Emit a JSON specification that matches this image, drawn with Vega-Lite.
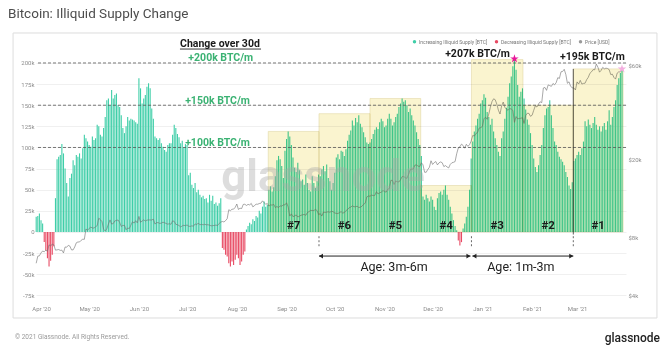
{
  "$schema": "https://vega.github.io/schema/vega-lite/v6.json",
  "width": 590,
  "height": 254,
  "autosize": {"type": "none"},
  "padding": {"left": 36, "top": 46, "right": 44, "bottom": 59},
  "background": "#ffffff",
  "title": {"text": "Bitcoin: Illiquid Supply Change", "anchor": "start", "frame": "group", "dx": -28, "offset": 12, "fontSize": 13.5, "font": "Roboto", "fontWeight": "normal", "color": "#4d4d4d"},
  "config": {"view": {"stroke": null}, "font": "Roboto"},
  "datasets": {
    "main": [
      {"d":"2020-03-29","v":18,"p":5880},{"d":"2020-03-30","v":19,"p":6390},{"d":"2020-03-31","v":22,"p":6420},
      {"d":"2020-04-01","v":14,"p":6640},{"d":"2020-04-02","v":10,"p":6790},{"d":"2020-04-03","v":-12,"p":6730},{"d":"2020-04-04","v":-22,"p":6860},{"d":"2020-04-05","v":-31,"p":6770},{"d":"2020-04-06","v":-41,"p":7300},{"d":"2020-04-07","v":-34,"p":7200},{"d":"2020-04-08","v":-27,"p":7370},{"d":"2020-04-09","v":-17,"p":7300},{"d":"2020-04-10","v":40,"p":6860},
      {"d":"2020-04-11","v":86,"p":6880},{"d":"2020-04-12","v":89,"p":6910},{"d":"2020-04-13","v":91,"p":6840},{"d":"2020-04-14","v":104,"p":6860},{"d":"2020-04-15","v":93,"p":6640},{"d":"2020-04-16","v":75,"p":7120},{"d":"2020-04-17","v":58,"p":7100},{"d":"2020-04-18","v":42,"p":7260},{"d":"2020-04-19","v":64,"p":7190},{"d":"2020-04-20","v":69,"p":6880},
      {"d":"2020-04-21","v":85,"p":6880},{"d":"2020-04-22","v":79,"p":7120},{"d":"2020-04-23","v":91,"p":7480},{"d":"2020-04-24","v":89,"p":7550},{"d":"2020-04-25","v":93,"p":7550},{"d":"2020-04-26","v":87,"p":7700},{"d":"2020-04-27","v":99,"p":7800},{"d":"2020-04-28","v":115,"p":7790},{"d":"2020-04-29","v":111,"p":8800},{"d":"2020-04-30","v":107,"p":8660},
      {"d":"2020-05-01","v":103,"p":8860},{"d":"2020-05-02","v":101,"p":8990},{"d":"2020-05-03","v":113,"p":8910},{"d":"2020-05-04","v":109,"p":8890},{"d":"2020-05-05","v":111,"p":9030},{"d":"2020-05-06","v":127,"p":9150},{"d":"2020-05-07","v":125,"p":9990},{"d":"2020-05-08","v":115,"p":9810},{"d":"2020-05-09","v":113,"p":9590},{"d":"2020-05-10","v":123,"p":8760},
      {"d":"2020-05-11","v":136,"p":8600},{"d":"2020-05-12","v":156,"p":8820},{"d":"2020-05-13","v":158,"p":9320},{"d":"2020-05-14","v":150,"p":9790},{"d":"2020-05-15","v":168,"p":9320},{"d":"2020-05-16","v":158,"p":9380},{"d":"2020-05-17","v":162,"p":9670},{"d":"2020-05-18","v":164,"p":9730},{"d":"2020-05-19","v":150,"p":9780},{"d":"2020-05-20","v":148,"p":9510},
      {"d":"2020-05-21","v":138,"p":9060},{"d":"2020-05-22","v":123,"p":9170},{"d":"2020-05-23","v":117,"p":9180},{"d":"2020-05-24","v":125,"p":8720},{"d":"2020-05-25","v":136,"p":8900},{"d":"2020-05-26","v":132,"p":8840},{"d":"2020-05-27","v":134,"p":9200},{"d":"2020-05-28","v":133,"p":9580},{"d":"2020-05-29","v":132,"p":9430},{"d":"2020-05-30","v":130,"p":9700},{"d":"2020-05-31","v":128,"p":9450},
      {"d":"2020-06-01","v":182,"p":10200},{"d":"2020-06-02","v":170,"p":9520},{"d":"2020-06-03","v":152,"p":9660},{"d":"2020-06-04","v":158,"p":9800},{"d":"2020-06-05","v":162,"p":9660},{"d":"2020-06-06","v":172,"p":9760},{"d":"2020-06-07","v":176,"p":9790},{"d":"2020-06-08","v":170,"p":9780},{"d":"2020-06-09","v":146,"p":9780},{"d":"2020-06-10","v":134,"p":9880},
      {"d":"2020-06-11","v":113,"p":9320},{"d":"2020-06-12","v":111,"p":9480},{"d":"2020-06-13","v":109,"p":9480},{"d":"2020-06-14","v":111,"p":9390},{"d":"2020-06-15","v":105,"p":9430},{"d":"2020-06-16","v":101,"p":9530},{"d":"2020-06-17","v":97,"p":9460},{"d":"2020-06-18","v":95,"p":9390},{"d":"2020-06-19","v":103,"p":9310},{"d":"2020-06-20","v":105,"p":9360},
      {"d":"2020-06-21","v":105,"p":9290},{"d":"2020-06-22","v":115,"p":9680},{"d":"2020-06-23","v":127,"p":9620},{"d":"2020-06-24","v":123,"p":9290},{"d":"2020-06-25","v":116,"p":9250},{"d":"2020-06-26","v":112,"p":9160},{"d":"2020-06-27","v":105,"p":9010},{"d":"2020-06-28","v":108,"p":9120},{"d":"2020-06-29","v":100,"p":9190},{"d":"2020-06-30","v":104,"p":9140},
      {"d":"2020-07-01","v":103,"p":9230},{"d":"2020-07-02","v":67,"p":9090},{"d":"2020-07-03","v":70,"p":9070},{"d":"2020-07-04","v":56,"p":9130},{"d":"2020-07-05","v":52,"p":9090},{"d":"2020-07-06","v":58,"p":9340},{"d":"2020-07-07","v":47,"p":9250},{"d":"2020-07-08","v":50,"p":9440},{"d":"2020-07-09","v":44,"p":9240},{"d":"2020-07-10","v":41,"p":9290},
      {"d":"2020-07-11","v":43,"p":9240},{"d":"2020-07-12","v":39,"p":9300},{"d":"2020-07-13","v":40,"p":9240},{"d":"2020-07-14","v":35,"p":9250},{"d":"2020-07-15","v":44,"p":9200},{"d":"2020-07-16","v":37,"p":9130},{"d":"2020-07-17","v":43,"p":9150},{"d":"2020-07-18","v":33,"p":9170},{"d":"2020-07-19","v":35,"p":9210},{"d":"2020-07-20","v":31,"p":9160},
      {"d":"2020-07-21","v":34,"p":9390},{"d":"2020-07-22","v":40,"p":9540},{"d":"2020-07-23","v":-19,"p":9610},{"d":"2020-07-24","v":-21,"p":9550},{"d":"2020-07-25","v":-27,"p":9710},{"d":"2020-07-26","v":-29,"p":9930},{"d":"2020-07-27","v":-37,"p":11030},{"d":"2020-07-28","v":-41,"p":10910},{"d":"2020-07-29","v":-35,"p":11100},{"d":"2020-07-30","v":-39,"p":11110},{"d":"2020-07-31","v":-33,"p":11350},
      {"d":"2020-08-01","v":-27,"p":11800},{"d":"2020-08-02","v":-31,"p":11070},{"d":"2020-08-03","v":-39,"p":11230},{"d":"2020-08-04","v":-35,"p":11190},{"d":"2020-08-05","v":-27,"p":11740},{"d":"2020-08-06","v":-23,"p":11770},{"d":"2020-08-07","v":3,"p":11600},{"d":"2020-08-08","v":7,"p":11750},{"d":"2020-08-09","v":11,"p":11680},{"d":"2020-08-10","v":9,"p":11880},
      {"d":"2020-08-11","v":15,"p":11410},{"d":"2020-08-12","v":13,"p":11580},{"d":"2020-08-13","v":19,"p":11780},{"d":"2020-08-14","v":17,"p":11770},{"d":"2020-08-15","v":25,"p":11870},{"d":"2020-08-16","v":22,"p":11910},{"d":"2020-08-17","v":30,"p":12250},{"d":"2020-08-18","v":36,"p":11990},{"d":"2020-08-19","v":30,"p":11760},{"d":"2020-08-20","v":32,"p":11870},
      {"d":"2020-08-21","v":50,"p":11520},{"d":"2020-08-22","v":54,"p":11680},{"d":"2020-08-23","v":48,"p":11650},{"d":"2020-08-24","v":53,"p":11750},{"d":"2020-08-25","v":66,"p":11320},{"d":"2020-08-26","v":85,"p":11460},{"d":"2020-08-27","v":90,"p":11320},{"d":"2020-08-28","v":86,"p":11540},{"d":"2020-08-29","v":78,"p":11510},{"d":"2020-08-30","v":64,"p":11680},{"d":"2020-08-31","v":96,"p":11680},
      {"d":"2020-09-01","v":110,"p":11970},{"d":"2020-09-02","v":119,"p":11410},{"d":"2020-09-03","v":113,"p":10240},{"d":"2020-09-04","v":103,"p":10510},{"d":"2020-09-05","v":88,"p":10170},{"d":"2020-09-06","v":76,"p":10260},{"d":"2020-09-07","v":71,"p":10380},{"d":"2020-09-08","v":82,"p":10130},{"d":"2020-09-09","v":73,"p":10230},{"d":"2020-09-10","v":60,"p":10340},
      {"d":"2020-09-11","v":62,"p":10390},{"d":"2020-09-12","v":56,"p":10440},{"d":"2020-09-13","v":68,"p":10330},{"d":"2020-09-14","v":58,"p":10680},{"d":"2020-09-15","v":50,"p":10790},{"d":"2020-09-16","v":48,"p":10950},{"d":"2020-09-17","v":66,"p":10940},{"d":"2020-09-18","v":58,"p":10930},{"d":"2020-09-19","v":52,"p":11080},{"d":"2020-09-20","v":60,"p":10920},
      {"d":"2020-09-21","v":68,"p":10420},{"d":"2020-09-22","v":66,"p":10540},{"d":"2020-09-23","v":74,"p":10240},{"d":"2020-09-24","v":78,"p":10740},{"d":"2020-09-25","v":72,"p":10690},{"d":"2020-09-26","v":80,"p":10730},{"d":"2020-09-27","v":64,"p":10770},{"d":"2020-09-28","v":60,"p":10710},{"d":"2020-09-29","v":50,"p":10840},{"d":"2020-09-30","v":58,"p":10780},
      {"d":"2020-10-01","v":70,"p":10620},{"d":"2020-10-02","v":88,"p":10570},{"d":"2020-10-03","v":92,"p":10550},{"d":"2020-10-04","v":86,"p":10670},{"d":"2020-10-05","v":96,"p":10790},{"d":"2020-10-06","v":95,"p":10600},{"d":"2020-10-07","v":90,"p":10670},{"d":"2020-10-08","v":98,"p":10920},{"d":"2020-10-09","v":108,"p":11060},{"d":"2020-10-10","v":115,"p":11300},
      {"d":"2020-10-11","v":120,"p":11380},{"d":"2020-10-12","v":132,"p":11550},{"d":"2020-10-13","v":126,"p":11430},{"d":"2020-10-14","v":135,"p":11430},{"d":"2020-10-15","v":130,"p":11500},{"d":"2020-10-16","v":138,"p":11320},{"d":"2020-10-17","v":128,"p":11370},{"d":"2020-10-18","v":124,"p":11500},{"d":"2020-10-19","v":118,"p":11760},{"d":"2020-10-20","v":112,"p":11920},
      {"d":"2020-10-21","v":106,"p":12820},{"d":"2020-10-22","v":104,"p":12970},{"d":"2020-10-23","v":106,"p":12930},{"d":"2020-10-24","v":110,"p":13110},{"d":"2020-10-25","v":116,"p":13030},{"d":"2020-10-26","v":121,"p":13070},{"d":"2020-10-27","v":124,"p":13650},{"d":"2020-10-28","v":122,"p":13280},{"d":"2020-10-29","v":130,"p":13460},{"d":"2020-10-30","v":134,"p":13560},{"d":"2020-10-31","v":131,"p":13800},
      {"d":"2020-11-01","v":124,"p":13740},{"d":"2020-11-02","v":126,"p":13550},{"d":"2020-11-03","v":134,"p":14030},{"d":"2020-11-04","v":140,"p":14150},{"d":"2020-11-05","v":134,"p":15590},{"d":"2020-11-06","v":126,"p":15580},{"d":"2020-11-07","v":130,"p":14840},{"d":"2020-11-08","v":136,"p":15480},{"d":"2020-11-09","v":140,"p":15330},{"d":"2020-11-10","v":148,"p":15300},
      {"d":"2020-11-11","v":152,"p":15700},{"d":"2020-11-12","v":158,"p":16280},{"d":"2020-11-13","v":154,"p":16320},{"d":"2020-11-14","v":156,"p":16070},{"d":"2020-11-15","v":150,"p":15960},{"d":"2020-11-16","v":142,"p":16720},{"d":"2020-11-17","v":146,"p":17650},{"d":"2020-11-18","v":138,"p":17780},{"d":"2020-11-19","v":132,"p":17820},{"d":"2020-11-20","v":126,"p":18660},
      {"d":"2020-11-21","v":118,"p":18680},{"d":"2020-11-22","v":110,"p":18410},{"d":"2020-11-23","v":103,"p":18370},{"d":"2020-11-24","v":90,"p":19160},{"d":"2020-11-25","v":42,"p":18720},{"d":"2020-11-26","v":38,"p":17150},{"d":"2020-11-27","v":44,"p":17140},{"d":"2020-11-28","v":40,"p":17720},{"d":"2020-11-29","v":36,"p":18180},{"d":"2020-11-30","v":42,"p":19630},
      {"d":"2020-12-01","v":38,"p":18800},{"d":"2020-12-02","v":30,"p":19200},{"d":"2020-12-03","v":26,"p":19450},{"d":"2020-12-04","v":40,"p":18700},{"d":"2020-12-05","v":46,"p":19150},{"d":"2020-12-06","v":48,"p":19360},{"d":"2020-12-07","v":44,"p":19170},{"d":"2020-12-08","v":50,"p":18320},{"d":"2020-12-09","v":55,"p":18550},{"d":"2020-12-10","v":44,"p":18250},
      {"d":"2020-12-11","v":38,"p":18040},{"d":"2020-12-12","v":30,"p":18800},{"d":"2020-12-13","v":22,"p":19170},{"d":"2020-12-14","v":14,"p":19270},{"d":"2020-12-15","v":7,"p":19440},{"d":"2020-12-16","v":2,"p":21310},{"d":"2020-12-17","v":-10,"p":22800},{"d":"2020-12-18","v":-16,"p":23140},{"d":"2020-12-19","v":-12,"p":23870},{"d":"2020-12-20","v":4,"p":23480},
      {"d":"2020-12-21","v":10,"p":22750},{"d":"2020-12-22","v":18,"p":23820},{"d":"2020-12-23","v":30,"p":23250},{"d":"2020-12-24","v":50,"p":23720},{"d":"2020-12-25","v":87,"p":24710},{"d":"2020-12-26","v":107,"p":26440},{"d":"2020-12-27","v":119,"p":26250},{"d":"2020-12-28","v":126,"p":27040},{"d":"2020-12-29","v":134,"p":27360},{"d":"2020-12-30","v":140,"p":28840},{"d":"2020-12-31","v":152,"p":29000},
      {"d":"2021-01-01","v":156,"p":29370},{"d":"2021-01-02","v":163,"p":32130},{"d":"2021-01-03","v":159,"p":32780},{"d":"2021-01-04","v":142,"p":31970},{"d":"2021-01-05","v":136,"p":33990},{"d":"2021-01-06","v":127,"p":36820},{"d":"2021-01-07","v":134,"p":39370},{"d":"2021-01-08","v":119,"p":40670},{"d":"2021-01-09","v":111,"p":40240},{"d":"2021-01-10","v":103,"p":38240},
      {"d":"2021-01-11","v":95,"p":35540},{"d":"2021-01-12","v":90,"p":34010},{"d":"2021-01-13","v":111,"p":37390},{"d":"2021-01-14","v":119,"p":39150},{"d":"2021-01-15","v":134,"p":36830},{"d":"2021-01-16","v":147,"p":36070},{"d":"2021-01-17","v":160,"p":35550},{"d":"2021-01-18","v":176,"p":36250},{"d":"2021-01-19","v":184,"p":36070},{"d":"2021-01-20","v":196,"p":35500},
      {"d":"2021-01-21","v":207,"p":30830},{"d":"2021-01-22","v":192,"p":33000},{"d":"2021-01-23","v":174,"p":32100},{"d":"2021-01-24","v":160,"p":32280},{"d":"2021-01-25","v":166,"p":32370},{"d":"2021-01-26","v":170,"p":32570},{"d":"2021-01-27","v":158,"p":30430},{"d":"2021-01-28","v":145,"p":33470},{"d":"2021-01-29","v":133,"p":34320},{"d":"2021-01-30","v":127,"p":34270},{"d":"2021-01-31","v":117,"p":33110},
      {"d":"2021-02-01","v":103,"p":33540},{"d":"2021-02-02","v":87,"p":35510},{"d":"2021-02-03","v":77,"p":37470},{"d":"2021-02-04","v":71,"p":36930},{"d":"2021-02-05","v":79,"p":38290},{"d":"2021-02-06","v":91,"p":39260},{"d":"2021-02-07","v":103,"p":38900},{"d":"2021-02-08","v":123,"p":46200},{"d":"2021-02-09","v":138,"p":46480},{"d":"2021-02-10","v":146,"p":44920},
      {"d":"2021-02-11","v":148,"p":47910},{"d":"2021-02-12","v":156,"p":47500},{"d":"2021-02-13","v":138,"p":47100},{"d":"2021-02-14","v":123,"p":48700},{"d":"2021-02-15","v":107,"p":47940},{"d":"2021-02-16","v":103,"p":49200},{"d":"2021-02-17","v":95,"p":52150},{"d":"2021-02-18","v":89,"p":51680},{"d":"2021-02-19","v":86,"p":55890},{"d":"2021-02-20","v":83,"p":56100},
      {"d":"2021-02-21","v":79,"p":57540},{"d":"2021-02-22","v":71,"p":54200},{"d":"2021-02-23","v":65,"p":48820},{"d":"2021-02-24","v":55,"p":49700},{"d":"2021-02-25","v":51,"p":47090},{"d":"2021-02-26","v":59,"p":46340},{"d":"2021-02-27","v":84,"p":46190},{"d":"2021-02-28","v":87,"p":45140},
      {"d":"2021-03-01","v":91,"p":49630},{"d":"2021-03-02","v":95,"p":48380},{"d":"2021-03-03","v":91,"p":50540},{"d":"2021-03-04","v":99,"p":48380},{"d":"2021-03-05","v":107,"p":48750},{"d":"2021-03-06","v":131,"p":48880},{"d":"2021-03-07","v":125,"p":50970},{"d":"2021-03-08","v":133,"p":52380},{"d":"2021-03-09","v":127,"p":54880},{"d":"2021-03-10","v":123,"p":55860},
      {"d":"2021-03-11","v":129,"p":57330},{"d":"2021-03-12","v":136,"p":57230},{"d":"2021-03-13","v":127,"p":61190},{"d":"2021-03-14","v":121,"p":59000},{"d":"2021-03-15","v":125,"p":55650},{"d":"2021-03-16","v":119,"p":56830},{"d":"2021-03-17","v":125,"p":58890},{"d":"2021-03-18","v":129,"p":57860},{"d":"2021-03-19","v":121,"p":58350},{"d":"2021-03-20","v":131,"p":58100},
      {"d":"2021-03-21","v":144,"p":57350},{"d":"2021-03-22","v":127,"p":54080},{"d":"2021-03-23","v":136,"p":54340},{"d":"2021-03-24","v":148,"p":52300},{"d":"2021-03-25","v":156,"p":51300},{"d":"2021-03-26","v":174,"p":55030},{"d":"2021-03-27","v":182,"p":55860},{"d":"2021-03-28","v":188,"p":55780},{"d":"2021-03-29","v":195,"p":57600}
    ],
    "boxes": [
      {"x0":"2020-08-20T14:00:00Z","x1":"2020-09-21T05:00:00Z","top":119,"mid":"2020-09-05T10:00:00Z","label":"#7"},
      {"x0":"2020-09-21T05:00:00Z","x1":"2020-10-23T00:00:00Z","top":140,"mid":"2020-10-07T02:00:00Z","label":"#6"},
      {"x0":"2020-10-23T00:00:00Z","x1":"2020-11-23T14:00:00Z","top":158,"mid":"2020-11-07T19:00:00Z","label":"#5"},
      {"x0":"2020-11-23T14:00:00Z","x1":"2020-12-25T05:00:00Z","top":55,"mid":"2020-12-09T10:00:00Z","label":"#4"},
      {"x0":"2020-12-25T05:00:00Z","x1":"2021-01-26T07:00:00Z","top":204,"mid":"2021-01-10T06:00:00Z","label":"#3"},
      {"x0":"2021-01-26T07:00:00Z","x1":"2021-02-26T16:00:00Z","top":150,"mid":"2021-02-11T00:00:00Z","label":"#2"},
      {"x0":"2021-02-26T16:00:00Z","x1":"2021-03-29T17:00:00Z","top":193,"mid":"2021-03-14T05:00:00Z","label":"#1"}
    ],
    "levels": [
      {"lvl":100,"t":"2020-07-20T00:00:00Z","label":"+100k BTC/m"},{"lvl":150,"t":"2020-07-20T00:00:00Z","label":"+150k BTC/m"},{"lvl":200,"t":"2020-07-22T00:00:00Z","label":"+200k BTC/m"}
    ],
    "ticks": [
      {"t":"2020-09-21T05:00:00Z"},{"t":"2020-12-25T05:00:00Z"},{"t":"2021-02-26T16:00:00Z"}
    ],
    "arrows": [
      {"a":"2020-09-21T05:00:00Z","b":"2020-12-24T14:00:00Z","m":"2020-11-07T00:00:00Z","label":"Age: 3m-6m"},
      {"a":"2020-12-25T19:00:00Z","b":"2021-02-26T16:00:00Z","m":"2021-01-25T00:00:00Z","label":"Age: 1m-3m"}
    ],
    "peaks": [
      {"t":"2020-12-29T00:00:00Z","y":211,"label":"+207k BTC/m"},
      {"t":"2021-03-10T14:00:00Z","y":206.7,"label":"+195k BTC/m"}
    ],
    "frame": [{"x0":"2020-03-14T14:00:00Z","x1":"2021-04-19T19:00:00Z","y0":235.5,"y1":-101.8}],
    "vline": [{"t":"2021-02-26T16:00:00Z","y0":193,"y1":-3}],
    "heading": [{"t":"2020-07-21T12:00:00Z","y":223,"label":"Change over 30d"}],
    "underline": [{"t0":"2020-06-26T14:00:00Z","t1":"2020-08-16T02:00:00Z","y":216.5}],
    "star1": [{"t":"2021-01-21T00:00:00Z","y":205}],
    "star2": [{"t":"2021-03-29T00:00:00Z","y":193}],
    "mark": [{"t":"2020-09-23T17:00:00Z","y":64,"label":"glassnode"}],
    "footL": [{"t":"2020-03-15T19:00:00Z","y":-124,"label":"© 2021 Glassnode. All Rights Reserved."}],
    "footR": [{"t":"2021-04-21T17:00:00Z","y":-125,"label":"glassnode"}]
  },
  "resolve": {"scale": {"y": "independent"}, "axis": {"y": "independent"}},
  "layer": [
    {
      "data": {"name": "main"},
      "transform": [{"calculate": "datum.v >= 0 ? 'Increasing Illiquid Supply [BTC]' : 'Decreasing Illiquid Supply [BTC]'", "as": "series"}],
      "mark": {"type": "bar", "width": 1.1},
      "encoding": {
        "x": {"field": "d", "type": "temporal",
          "scale": {"type": "utc", "nice": false, "padding": 0, "domain": [{"year": 2020, "month": 3, "date": 28, "hours": 21, "utc": true}, {"year": 2021, "month": 3, "date": 31, "hours": 12, "utc": true}]},
          "axis": {"title": null, "tickCount": {"interval": "month", "step": 1}, "format": "%b '%y", "labelFontSize": 6, "labelColor": "#8c8c8c", "grid": false, "domain": false, "ticks": false, "labelPadding": 5, "labelFlush": false, "labelOverlap": false}},
        "y": {"field": "v", "type": "quantitative",
          "scale": {"domain": [-80.5, 220.1], "nice": false, "zero": false, "padding": 0},
          "axis": {"title": null, "values": [-75, -50, -25, 0, 25, 50, 75, 100, 125, 150, 175, 200], "labelExpr": "datum.value == 0 ? '0' : datum.value + 'k'", "grid": true, "gridColor": "#ececec", "gridWidth": 0.8, "domain": false, "ticks": false, "labelFontSize": 6, "labelColor": "#8c8c8c", "labelPadding": 2}},
        "color": {"field": "series", "type": "nominal",
          "scale": {"domain": ["Increasing Illiquid Supply [BTC]", "Decreasing Illiquid Supply [BTC]", "Price [USD]"], "range": ["#3fcea8", "#e84a63", "#9a9a9a"]},
          "legend": {"orient": "none", "legendX": 376, "legendY": -7, "direction": "horizontal", "title": null, "labelFontSize": 5, "labelColor": "#777777", "symbolType": "circle", "symbolSize": 12, "symbolStrokeWidth": 0, "columnPadding": 6, "labelOffset": 2}}
      }
    },
    {
      "data": {"name": "main"},
      "mark": {"type": "line", "color": "#6e6e6e", "strokeWidth": 0.7, "opacity": 0.85},
      "encoding": {
        "x": {"field": "d", "type": "temporal"},
        "y": {"field": "p", "type": "quantitative",
          "scale": {"type": "log", "domain": [3816, 75700], "nice": false},
          "axis": {"orient": "right", "title": null, "values": [4000, 8000, 20000, 60000], "labelExpr": "'$' + (datum.value / 1000) + 'k'", "grid": false, "domain": false, "ticks": false, "labelFontSize": 6, "labelColor": "#8c8c8c", "labelPadding": 2}}
      }
    },
    {
      "layer": [
        {
          "data": {"name": "boxes"},
          "mark": {"type": "rect", "fill": "#faf4cf", "blend": "multiply", "stroke": "#e2d9a6", "strokeWidth": 0.6},
          "encoding": {
            "x": {"field": "x0", "type": "temporal"},
            "x2": {"field": "x1"},
            "y": {"field": "top", "type": "quantitative", "scale": {"domain": [-80.5, 220.1], "nice": false, "zero": false, "padding": 0}, "axis": null},
            "y2": {"datum": 0}
          }
        },
        {
          "data": {"name": "frame"},
          "mark": {"type": "rect", "fillOpacity": 0, "stroke": "#dddddd", "strokeWidth": 1},
          "encoding": {
            "x": {"field": "x0", "type": "temporal"},
            "x2": {"field": "x1"},
            "y": {"field": "y0", "type": "quantitative", "axis": null},
            "y2": {"field": "y1"}
          }
        },
        {
          "data": {"name": "levels"},
          "mark": {"type": "rule", "strokeDash": [3, 2], "color": "#555555", "strokeWidth": 0.8},
          "encoding": {"y": {"field": "lvl", "type": "quantitative", "axis": null}}
        },
        {
          "data": {"name": "levels"},
          "mark": {"type": "text", "font": "Roboto", "fontWeight": "bold", "fontSize": 10.5, "color": "#3bb273", "dy": -4.5},
          "encoding": {
            "x": {"field": "t", "type": "temporal"},
            "y": {"field": "lvl", "type": "quantitative", "axis": null},
            "text": {"field": "label"}
          }
        },
        {
          "data": {"name": "vline"},
          "mark": {"type": "rule", "color": "#333333", "strokeWidth": 0.8},
          "encoding": {
            "x": {"field": "t", "type": "temporal"},
            "y": {"field": "y0", "type": "quantitative", "axis": null},
            "y2": {"field": "y1"}
          }
        },
        {
          "data": {"name": "ticks"},
          "mark": {"type": "rule", "color": "#444444", "strokeWidth": 0.8, "strokeDash": [2, 2]},
          "encoding": {
            "x": {"field": "t", "type": "temporal"},
            "y": {"datum": -5, "type": "quantitative", "axis": null},
            "y2": {"datum": -19}
          }
        },
        {
          "data": {"name": "arrows"},
          "mark": {"type": "rule", "color": "#222222", "strokeWidth": 1},
          "encoding": {
            "x": {"field": "a", "type": "temporal"},
            "x2": {"field": "b"},
            "y": {"datum": -28.5, "type": "quantitative", "axis": null}
          }
        },
        {
          "data": {"name": "arrows"},
          "mark": {"type": "point", "shape": "triangle-left", "filled": true, "size": 22, "color": "#222222", "opacity": 1, "xOffset": 2},
          "encoding": {
            "x": {"field": "a", "type": "temporal"},
            "y": {"datum": -28.5, "type": "quantitative", "axis": null}
          }
        },
        {
          "data": {"name": "arrows"},
          "mark": {"type": "point", "shape": "triangle-right", "filled": true, "size": 22, "color": "#222222", "opacity": 1, "xOffset": -2},
          "encoding": {
            "x": {"field": "b", "type": "temporal"},
            "y": {"datum": -28.5, "type": "quantitative", "axis": null}
          }
        },
        {
          "data": {"name": "arrows"},
          "mark": {"type": "text", "font": "Roboto", "fontSize": 12.5, "color": "#222222"},
          "encoding": {
            "x": {"field": "m", "type": "temporal"},
            "y": {"datum": -41, "type": "quantitative", "axis": null},
            "text": {"field": "label"}
          }
        },
        {
          "data": {"name": "boxes"},
          "mark": {"type": "text", "font": "Roboto", "fontWeight": "bold", "fontSize": 11.5, "color": "#1a1a1a"},
          "encoding": {
            "x": {"field": "mid", "type": "temporal"},
            "y": {"datum": 7, "type": "quantitative", "axis": null},
            "text": {"field": "label"}
          }
        },
        {
          "data": {"name": "heading"},
          "mark": {"type": "text", "font": "Roboto", "fontWeight": "bold", "fontSize": 10.5, "color": "#1a1a1a"},
          "encoding": {
            "x": {"field": "t", "type": "temporal"},
            "y": {"field": "y", "type": "quantitative", "axis": null},
            "text": {"field": "label"}
          }
        },
        {
          "data": {"name": "underline"},
          "mark": {"type": "rule", "color": "#222222", "strokeWidth": 0.9},
          "encoding": {
            "x": {"field": "t0", "type": "temporal"},
            "x2": {"field": "t1"},
            "y": {"field": "y", "type": "quantitative", "axis": null}
          }
        },
        {
          "data": {"name": "peaks"},
          "mark": {"type": "text", "font": "Roboto", "fontWeight": "bold", "fontSize": 10.5, "color": "#1a1a1a"},
          "encoding": {
            "x": {"field": "t", "type": "temporal"},
            "y": {"field": "y", "type": "quantitative", "axis": null},
            "text": {"field": "label"}
          }
        },
        {
          "data": {"name": "star1"},
          "mark": {"type": "point", "shape": "M0,-1L0.2245,-0.309L0.951,-0.309L0.363,0.118L0.588,0.809L0,0.382L-0.588,0.809L-0.363,0.118L-0.951,-0.309L-0.2245,-0.309Z", "filled": true, "size": 80, "color": "#e8179a", "opacity": 1},
          "encoding": {
            "x": {"field": "t", "type": "temporal"},
            "y": {"field": "y", "type": "quantitative", "axis": null}
          }
        },
        {
          "data": {"name": "star2"},
          "mark": {"type": "point", "shape": "M0,-1L0.2245,-0.309L0.951,-0.309L0.363,0.118L0.588,0.809L0,0.382L-0.588,0.809L-0.363,0.118L-0.951,-0.309L-0.2245,-0.309Z", "filled": true, "size": 80, "color": "#f4aee0", "opacity": 1},
          "encoding": {
            "x": {"field": "t", "type": "temporal"},
            "y": {"field": "y", "type": "quantitative", "axis": null}
          }
        },
        {
          "data": {"name": "mark"},
          "mark": {"type": "text", "font": "Roboto", "fontWeight": "bold", "fontSize": 44, "color": "#a8a8a8", "opacity": 0.38},
          "encoding": {
            "x": {"field": "t", "type": "temporal"},
            "y": {"field": "y", "type": "quantitative", "axis": null},
            "text": {"field": "label"}
          }
        },
        {
          "data": {"name": "footL"},
          "mark": {"type": "text", "font": "Roboto", "fontSize": 6.5, "color": "#9a9a9a", "align": "left"},
          "encoding": {
            "x": {"field": "t", "type": "temporal"},
            "y": {"field": "y", "type": "quantitative", "axis": null},
            "text": {"field": "label"}
          }
        },
        {
          "data": {"name": "footR"},
          "mark": {"type": "text", "font": "Roboto", "fontSize": 12, "fontWeight": 500, "color": "#222222", "align": "right"},
          "encoding": {
            "x": {"field": "t", "type": "temporal"},
            "y": {"field": "y", "type": "quantitative", "axis": null},
            "text": {"field": "label"}
          }
        }
      ]
    }
  ]
}
